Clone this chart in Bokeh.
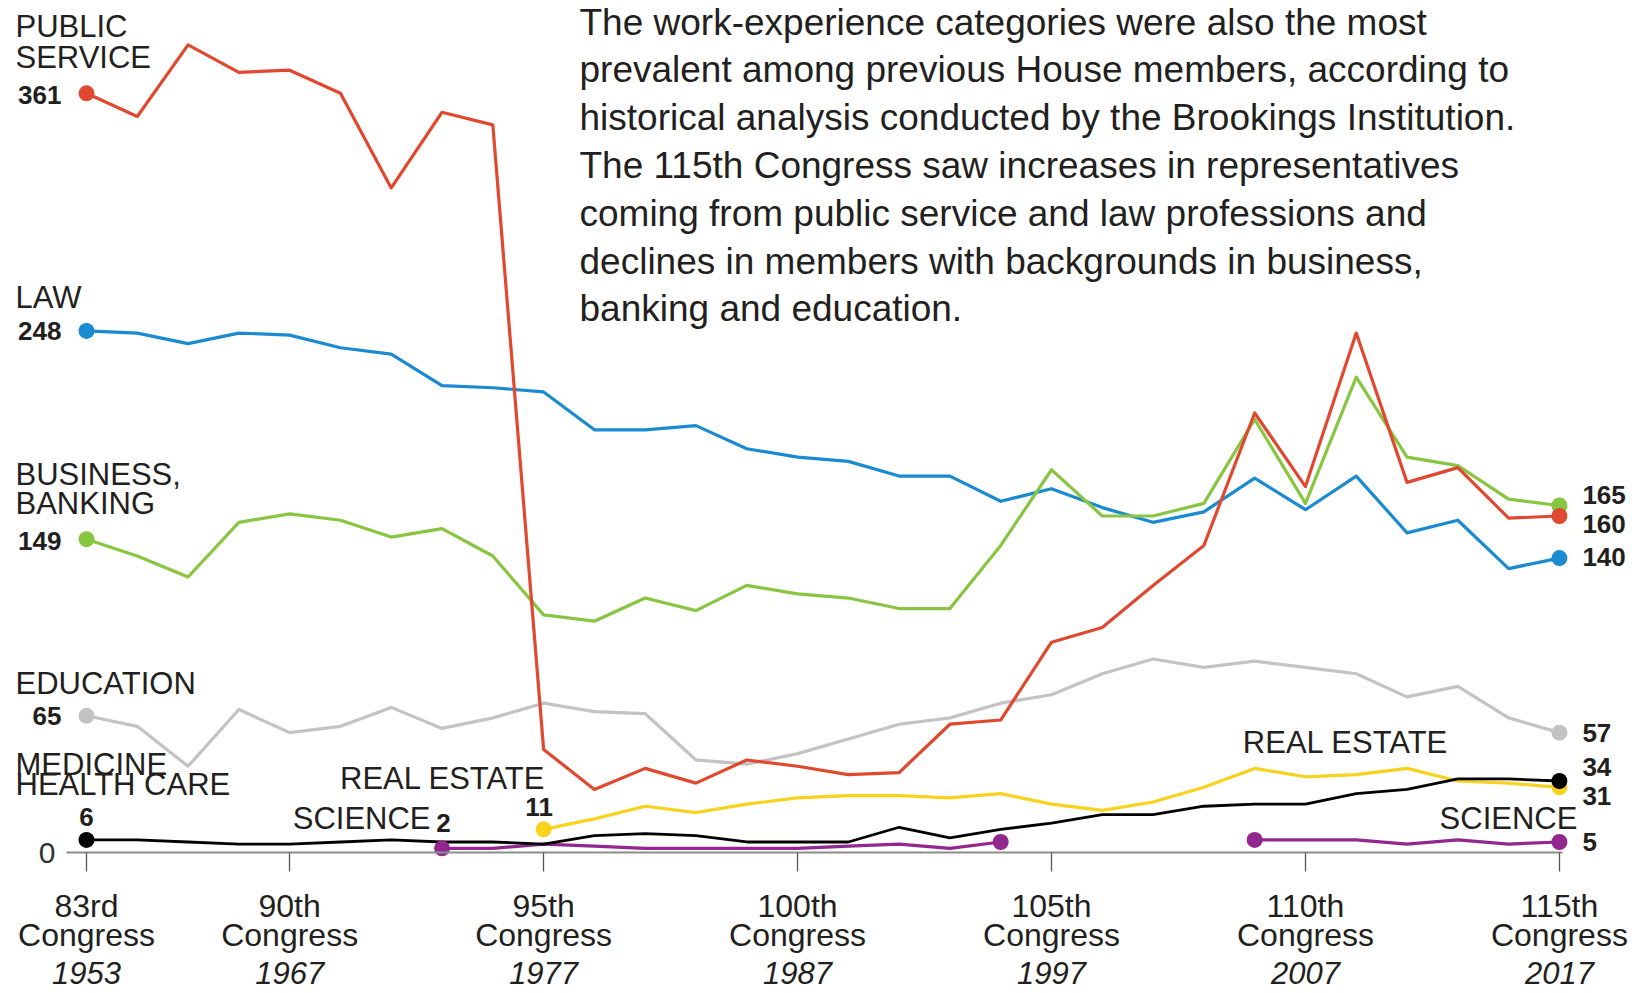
import math
from bokeh.plotting import figure
from bokeh.models import Range1d, LinearAxis, FixedTicker, ColumnDataSource
from bokeh.core.properties import value
from bokeh.embed import file_html
from bokeh.resources import INLINE

# ---------------- data ----------------
POINTS = list(range(30))                      # evenly spaced congress samples
TICK_IDX = [0, 4, 9, 14, 19, 24, 29]
TICK_ORD = ["83rd", "90th", "95th", "100th", "105th", "110th", "115th"]
TICK_WORD = "Congress"
TICK_YEARS = ["1953", "1967", "1977", "1987", "1997", "2007", "2017"]

public_service = [361, 350, 384, 371, 372, 361, 316, 352, 346, 49, 30, 40, 33, 44, 41,
                  37, 38, 61, 63, 100, 107, 127, 146, 209, 174, 247, 176, 183, 159, 160]
law = [248, 247, 242, 247, 246, 240, 237, 222, 221, 219, 201, 201, 203, 192, 188,
       186, 179, 179, 167, 173, 164, 157, 162, 178, 163, 179, 152, 158, 135, 140]
business = [149, 141, 131, 157, 161, 158, 150, 154, 141, 113, 110, 121, 115, 127, 123,
            121, 116, 116, 146, 182, 160, 160, 166, 206, 166, 226, 188, 184, 168, 165]
education = [65, 60, 41, 68, 57, 60, 69, 59, 64, 71, 67, 66, 44, 42, 47,
             54, 61, 64, 71, 75, 85, 92, 88, 91, 88, 85, 74, 79, 64, 57]
medicine = [6, 6, 5, 4, 4, 5, 6, 5, 5, 4, 8, 9, 8, 5, 5,
            5, 12, 7, 11, 14, 18, 18, 22, 23, 23, 28, 30, 35, 35, 34]
real_estate = [None] * 9 + [11, 16, 22, 19, 23, 26, 27, 27, 26, 28, 23,
                            20, 24, 31, 40, 36, 37, 40, 34, 33, 31]
science = [None] * 7 + [2, 2, 4, 3, 2, 2, 2, 2, 3, 4, 2, 5] + [None] * 4 + [6, 6, 6, 4, 6, 4, 5]

NOTE_LINES = [
    "The work-experience categories were also the most",
    "prevalent among previous House members, according to",
    "historical analysis conducted by the Brookings Institution.",
    "The 115th Congress saw increases in representatives",
    "coming from public service and law professions and",
    "declines in members with backgrounds in business,",
    "banking and education.",
]

# ---------------- layout / styles ----------------
W, H = 1637, 993
PX_X = 50.79          # pixels per sample
PX_Y = 2.103          # pixels per member
X0 = -86 / PX_X
X1 = X0 + W / PX_X
Y1 = 852 / PX_Y
Y0 = Y1 - H / PX_Y

FONT_NAME = "Liberation Sans"
FONT = value(FONT_NAME)
TXT = "#231f20"
RED, BLUE, GREEN, GRAY = "#e0492f", "#1a8bd1", "#88c540", "#c3c3c3"
BLACK, YELLOW, PURPLE = "#000000", "#f8d21c", "#92278f"


def nan(seq):
    return [float("nan") if v is None else v for v in seq]


def runs(seq):
    out, start = [], None
    for i, v in enumerate(seq + [None]):
        if v is not None and start is None:
            start = i
        elif v is None and start is not None:
            out.append((start, i - 1))
            start = None
    return out


p = figure(width=W, height=H, x_range=Range1d(X0, X1), y_range=Range1d(Y0, Y1),
           output_backend="svg", toolbar_location=None,
           x_axis_type=None, y_axis_type=None, min_border=0,
           outline_line_color=None, background_fill_color="white")
p.grid.visible = False

# axes
ax = LinearAxis(fixed_location=0, ticker=FixedTicker(ticks=TICK_IDX),
                bounds=(-0.394, 29.06),
                major_label_overrides={i: s for i, s in zip(TICK_IDX, TICK_ORD)},
                axis_line_color="#8c8c8c", axis_line_width=2,
                major_tick_line_color="#555555", major_tick_line_width=1.3,
                major_tick_in=0, major_tick_out=19, minor_tick_in=0, minor_tick_out=0,
                major_label_standoff=16, major_label_text_font=FONT_NAME,
                major_label_text_font_size="32px", major_label_text_color=TXT)
p.add_layout(ax, "below")
ax2 = LinearAxis(fixed_location=0, ticker=FixedTicker(ticks=TICK_IDX),
                 major_label_overrides={i: TICK_WORD for i in TICK_IDX},
                 axis_line_color=None, major_tick_line_color=None, minor_tick_line_color=None,
                 major_tick_in=0, major_tick_out=0, minor_tick_in=0, minor_tick_out=0,
                 major_label_standoff=64, major_label_text_font=FONT_NAME,
                 major_label_text_font_size="32px", major_label_text_color=TXT)
p.add_layout(ax2, "below")
ax3 = LinearAxis(fixed_location=0, ticker=FixedTicker(ticks=TICK_IDX),
                 major_label_overrides={i: s for i, s in zip(TICK_IDX, TICK_YEARS)},
                 axis_line_color=None, major_tick_line_color=None, minor_tick_line_color=None,
                 major_tick_in=0, major_tick_out=0, minor_tick_in=0, minor_tick_out=0,
                 major_label_standoff=109, major_label_text_font=FONT_NAME,
                 major_label_text_font_style="italic",
                 major_label_text_font_size="31px", major_label_text_color=TXT)
p.add_layout(ax3, "below")
ay = LinearAxis(fixed_location=-0.394, ticker=FixedTicker(ticks=[0]),
                axis_line_color=None, major_tick_line_color=None, minor_tick_line_color=None,
                major_tick_in=0, major_tick_out=0, minor_tick_in=0, minor_tick_out=0,
                major_label_standoff=11, major_label_text_font=FONT_NAME,
                major_label_text_font_size="30px", major_label_text_color="#333333")
p.add_layout(ay, "left")

series = [
    (education, GRAY, 3.2),
    (science, PURPLE, 3.2),
    (real_estate, YELLOW, 3.2),
    (medicine, BLACK, 2.8),
    (law, BLUE, 3.2),
    (business, GREEN, 3.2),
    (public_service, RED, 3.2),
]
for vals, col, lw in series:
    p.line(POINTS, nan(vals), line_color=col, line_width=lw, line_join="round")
for vals, col, lw in series:
    xs, ys = [], []
    for a, b in runs(vals):
        xs += [a, b]
        ys += [vals[a], vals[b]]
    p.scatter(xs, ys, size=16, fill_color=col, line_color=None)


def lab(rows, size, style, align, color=TXT):
    # rows: (sample index, value, dx px, dy px up, text)
    src = ColumnDataSource(dict(
        x=[i + dx / PX_X for i, v, dx, dy, t in rows],
        y=[v + dy / PX_Y for i, v, dx, dy, t in rows],
        t=[t for *_, t in rows]))
    p.text(x="x", y="y", text="t", source=src, text_font=FONT, text_font_size=size,
           text_font_style=style, text_align=align, text_baseline="middle", text_color=color)


# numbers at the line starts
lab([(0, public_service[0], -25, -2, str(public_service[0])),
     (0, law[0], -25, 0, str(law[0])),
     (0, business[0], -25, -2, str(business[0])),
     (0, education[0], -25, 0, str(education[0]))], "26px", "bold", "right")
lab([(0, medicine[0], 0, 23, str(medicine[0])),
     (9, real_estate[9], -4.5, 22, str(real_estate[9])),
     (7, science[7], 1.5, 25, str(science[7]))], "26px", "bold", "center")
# numbers at the line ends
lab([(29, business[29], 23, 11, str(business[29])),
     (29, public_service[29], 23, -7.5, str(public_service[29])),
     (29, law[29], 23, 1, str(law[29])),
     (29, education[29], 23, 0, str(education[29])),
     (29, medicine[29], 23, 13.5, str(medicine[29])),
     (29, real_estate[29], 23, -9, str(real_estate[29])),
     (29, science[29], 23, 0, str(science[29]))], "26px", "bold", "left")
# category names
lab([(0, public_service[0], -71, 66.5, "PUBLIC"),
     (0, public_service[0], -71, 36, "SERVICE"),
     (0, law[0], -71, 33.5, "LAW"),
     (0, business[0], -71, 64.5, "BUSINESS,"),
     (0, business[0], -71, 36, "BANKING"),
     (0, education[0], -71, 32.6, "EDUCATION"),
     (0, medicine[0], -71, 75.5, "MEDICINE"),
     (0, medicine[0], -71, 55, "HEALTH CARE")], "31px", "normal", "left")
lab([(9, real_estate[9], 2, 51, "REAL ESTATE"),
     (7, science[7], -11.5, 30, "SCIENCE"),
     (29, real_estate[29], -111, 44.5, "REAL ESTATE"),
     (29, science[29], 18, 23, "SCIENCE")], "31px", "normal", "right")

# explanatory note (placed in screen space, converted to data units)
note_x = X0 + 579 / PX_X
note_y = [Y1 - (21.5 + 47.8 * k) / PX_Y for k in range(len(NOTE_LINES))]
p.text(x=[note_x] * len(NOTE_LINES), y=note_y, text=NOTE_LINES, text_font=FONT,
       text_font_size="37px", text_color=TXT, text_align="left", text_baseline="middle")

open("out.html", "w").write(file_html(p, INLINE))
